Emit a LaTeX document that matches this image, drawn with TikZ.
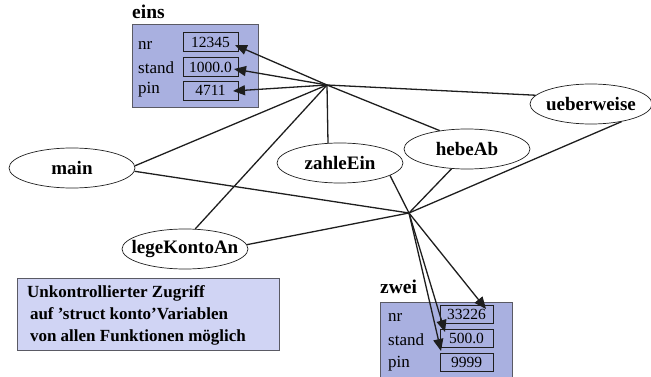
\documentclass[tikz,border=0pt]{standalone}
\usepackage{fontspec}
\setmainfont{Liberation Serif}
\usetikzlibrary{shapes.geometric,arrows.meta}
\definecolor{boxfill}{RGB}{169,176,224}
\definecolor{notefill}{RGB}{208,212,244}
\definecolor{boxedge}{RGB}{90,90,100}
\definecolor{ink}{RGB}{30,30,30}
\tikzset{
  func/.style={ellipse,draw=ink,line width=0.7pt,inner sep=0pt,minimum width=126pt,minimum height=40pt,font=\fontsize{19}{22}\selectfont\bfseries},
  structbox/.style={draw=boxedge,fill=boxfill,line width=1pt},
  valbox/.style={draw=ink,line width=0.8pt,minimum width=55pt,minimum height=19pt,inner sep=0pt,font=\fontsize{15.5}{17}\selectfont},
  fieldlbl/.style={anchor=base west,inner sep=0pt,font=\fontsize{17}{19}\selectfont},
  structlbl/.style={anchor=base west,inner sep=0pt,font=\fontsize{19.5}{22}\selectfont\bfseries},
  conn/.style={draw=ink,line width=1.3pt},
  ptr/.style={conn,-{Triangle[length=12pt,width=10pt]}},
}
\begin{document}
\begin{tikzpicture}[x=1pt,y=-1pt]
\useasboundingbox (0,0) rectangle (651,377);
% struct eins
\node[structlbl] (einslbl) at (132,19) {eins};
\fill[structbox] (132,25) rectangle (258,108);
\draw[boxedge,line width=1pt] (132,25) rectangle (258,108);
\node[fieldlbl] (e1l) at (138,50) {nr};
\node[fieldlbl] (e2l) at (138,74) {stand};
\node[fieldlbl] (e3l) at (138,94) {pin};
\node[valbox] (e1) at (210.5,42) {12345};
\node[valbox] (e2) at (210.5,67) {1000.0};
\node[valbox] (e3) at (210.5,90.5) {4711};
% struct zwei
\node[structlbl] (zweilbl) at (380,293) {zwei};
\fill[structbox] (380,302) rectangle (512,395);
\draw[boxedge,line width=1pt] (380,302) rectangle (512,395);
\node[fieldlbl] (z1l) at (388,321) {nr};
\node[fieldlbl] (z2l) at (388,345) {stand};
\node[fieldlbl] (z3l) at (388,367) {pin};
\node[valbox,minimum width=53pt,minimum height=18pt] (z1) at (466.5,314) {33226};
\node[valbox,minimum width=53pt,minimum height=18pt] (z2) at (466.5,338.5) {500.0};
\node[valbox,minimum width=53pt,minimum height=18pt] (z3) at (466.5,362.5) {9999};
% note
\node[draw=boxedge,fill=notefill,line width=1pt,minimum width=262pt,minimum height=72pt,anchor=north west] (note) at (17,278) {};
\node[anchor=north west,inner sep=0pt,align=left,font=\fontsize{17}{22}\selectfont\bfseries] (notetext) at (27,285) {Unkontrollierter Zugriff\\ \,auf ’struct konto’Variablen\\ \,von allen Funktionen möglich};
% functions
\node[func] (main) at (72,168) {\makebox[0pt]{main}};
\node[func] (zahl) at (340,163) {\makebox[0pt]{zahleEin}};
\node[func] (lege) at (185,249) {\makebox[0pt]{legeKontoAn}};
\node[func] (hebe) at (467,149) {\makebox[0pt]{hebeAb}};
\node[func,minimum width=122pt] (uew) at (591,104) {\makebox[0pt]{ueberweise}};
% hubs
\coordinate (h1) at (327,85);
\coordinate (h2) at (409,213);
\coordinate (t1) at (235,45);
\coordinate (t2) at (234,69);
\coordinate (t3) at (233,91);
\coordinate (t4) at (486,309);
\coordinate (t5) at (445,332);
\coordinate (t6) at (441,351);
% connectors hub 1
\draw[conn] (main.2) -- (h1);
\draw[conn] (lege.63) -- (h1);
\draw[conn] (zahl.121) -- (h1);
\draw[conn] (hebe.146) -- (h1);
\draw[conn] (uew.171) -- (h1);
\draw[ptr] (h1) -- (t1);
\draw[ptr] (h1) -- (t2);
\draw[ptr] (h1) -- (t3);
% connectors hub 2
\draw[conn] (main.-3) -- (h2);
\draw[conn] (lege.4) -- (h2);
\draw[conn] (zahl.-14) -- (h2);
\draw[conn] (hebe.232) -- (h2);
\draw[conn] (uew.-30) -- (h2);
\draw[ptr] (h2) -- (t4);
\draw[ptr] (h2) -- (t5);
\draw[ptr] (h2) -- (t6);
\end{tikzpicture}
\end{document}
